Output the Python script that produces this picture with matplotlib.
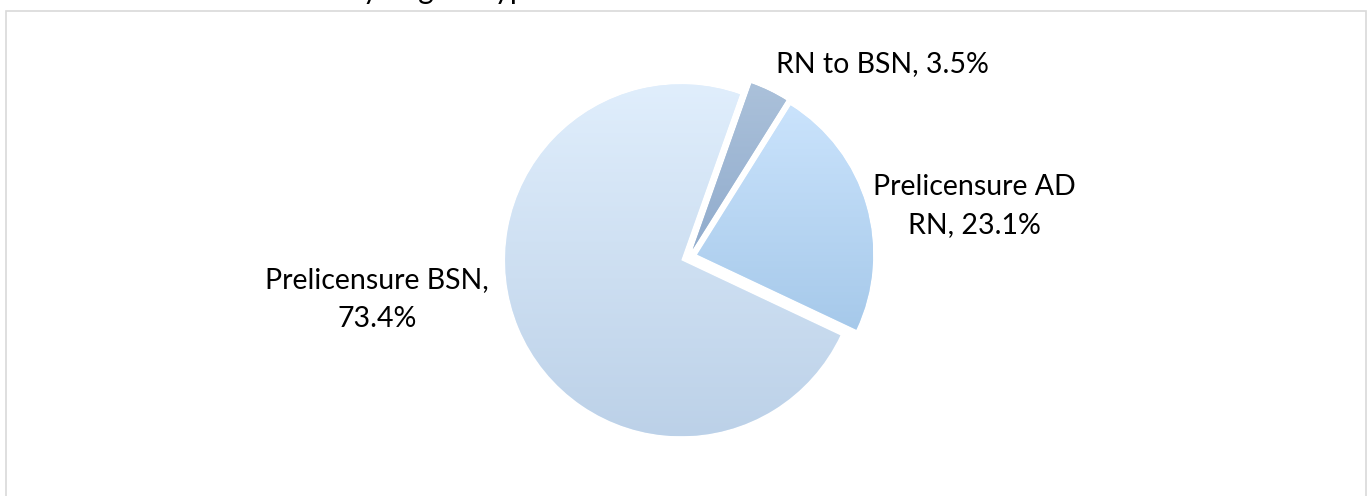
import numpy as np
import matplotlib
matplotlib.use("Agg")
import matplotlib.pyplot as plt
from matplotlib.colors import to_rgb
from matplotlib.patches import Rectangle

# ---- data ----
categories = ["RN to BSN", "Prelicensure AD RN", "Prelicensure BSN"]
values = [3.5, 23.1, 73.4]
title = "Students by degree type"

# ---- style / layout ----
W, H = 1367, 496
top_colors = ["#ABC1DA", "#CAE3FC", "#E0EEFC"]
bot_colors = ["#91ACCD", "#A6C9EA", "#BCD1E8"]
center_px = (689, 257)     # pie centre in pixel coords (top origin)
radius = 176
explode_px = 8.5
start_angle = 70.5
font = "Lato"
fs = 20.5

# label lines and baseline positions (pixel coords, top origin)
label_lines = [
    [f"{categories[0]}, {values[0]}%"],
    ["Prelicensure AD", f"RN, {values[1]}%"],
    ["Prelicensure BSN,", f"{values[2]}%"],
]
label_pos = [(882, [72]), (974, [195, 233]), (377, [288, 327])]

fig = plt.figure(figsize=(W / 100, H / 100), dpi=100)
ax = fig.add_axes([0, 0, 1, 1])
ax.set_xlim(0, W)
ax.set_ylim(0, H)
ax.axis("off")

cx, cy = center_px[0], H - center_px[1]
wedges, _ = ax.pie(values, radius=radius, center=(cx, cy),
                   explode=[explode_px] * len(values),
                   startangle=start_angle, counterclock=False,
                   wedgeprops=dict(linewidth=0), frame=True)
ax.set_xlim(0, W)
ax.set_ylim(0, H)
ax.set_aspect("auto")
ax.axis("off")

for w, tc, bc in zip(wedges, top_colors, bot_colors):
    ext = w.get_path().get_extents(w.get_patch_transform())
    t = np.linspace(0, 1, 256)[:, None]
    c0, c1 = np.array(to_rgb(tc)), np.array(to_rgb(bc))
    grad = (c0[None, :] * (1 - t) + c1[None, :] * t)[:, None, :]
    w.set_facecolor(tc)
    im = ax.imshow(grad, extent=[ext.x0, ext.x1, ext.y0, ext.y1],
                   origin="upper", aspect="auto", interpolation="bilinear",
                   zorder=w.get_zorder() + 0.1)
    im.set_clip_path(w)

ax.set_xlim(0, W)
ax.set_ylim(0, H)

for lines, (x, ys) in zip(label_lines, label_pos):
    for s, y in zip(lines, ys):
        ax.text(x, H - y, s, ha="center", va="baseline", fontsize=fs,
                family=font, color="#000000", zorder=5)

# chart title (mostly above the visible area, as in the reference)
ax.text(222, H + 0.5, title, ha="left", va="baseline", fontsize=21.5,
        family=font, color="#000000", clip_on=False)

# chart area border
ax.add_patch(Rectangle((6, -20), 1360, H - 11 + 20, fill=False,
                       edgecolor="#D9D9D9", linewidth=1.2, zorder=1))

fig.savefig("out.png", dpi=100)
